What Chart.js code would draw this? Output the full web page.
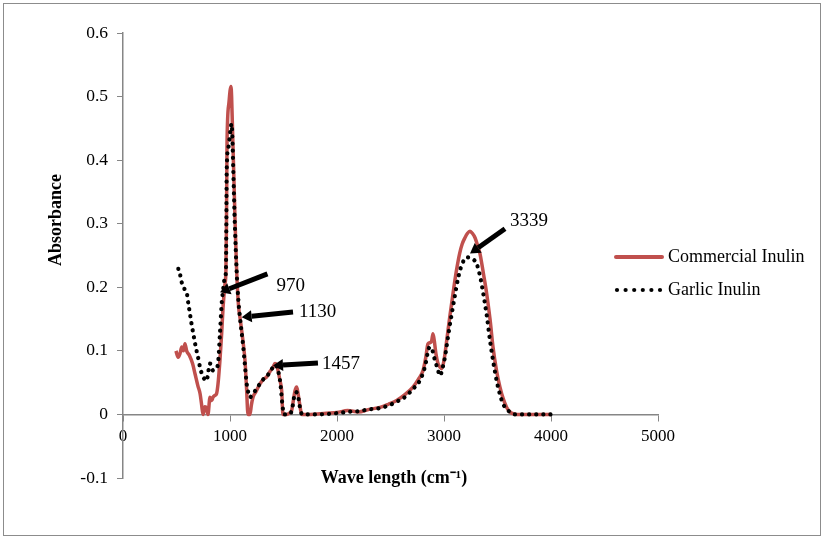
<!DOCTYPE html>
<html>
<head>
<meta charset="utf-8">
<script src="https://cdn.jsdelivr.net/npm/chart.js@4.4.0/dist/chart.umd.min.js"></script>
<style>
  html, body { margin: 0; padding: 0; background: #fff; }
  #wrap { position: relative; width: 827px; height: 543px; }
  #frame { position: absolute; left: 3px; top: 3px; width: 816px; height: 531px; border: 1.5px solid #8c8c8c; pointer-events: none; }
</style>
</head>
<body>
<div id="wrap">
  <canvas id="myChart" width="827" height="543"></canvas>
  <div id="frame"></div>
</div>
<script>
// wave numbers (cm-1) and absorbance
const commercialX = [495, 515, 533, 549, 565, 579, 595, 620, 650, 673, 700, 720, 735, 748, 765, 780, 794, 813, 830, 841, 860, 875, 888, 906, 922, 935, 953, 962, 967, 972, 990, 1009, 1015, 1025, 1035, 1048, 1062, 1080, 1093, 1109, 1125, 1140, 1155, 1168, 1187, 1200, 1215, 1240, 1280, 1310, 1343, 1375, 1402, 1420, 1435, 1449, 1465, 1483, 1495, 1530, 1555, 1576, 1595, 1607, 1623, 1636, 1652, 1670, 1750, 1900, 2000, 2100, 2200, 2300, 2402, 2480, 2557, 2640, 2710, 2760, 2804, 2830, 2850, 2870, 2885, 2897, 2910, 2925, 2944, 2960, 2978, 3000, 3025, 3055, 3084, 3115, 3146, 3170, 3196, 3220, 3243, 3265, 3290, 3315, 3336, 3370, 3399, 3430, 3458, 3490, 3523, 3555, 3586, 3610, 3632, 3680, 4000];
const commercialY = [0.100, 0.090, 0.096, 0.106, 0.100, 0.111, 0.100, 0.093, 0.080, 0.064, 0.045, 0.033, 0.015, 0.000, 0.012, 0.010, 0.000, 0.027, 0.022, 0.027, 0.030, 0.033, 0.048, 0.085, 0.127, 0.168, 0.205, 0.227, 0.300, 0.425, 0.490, 0.516, 0.500, 0.440, 0.380, 0.300, 0.226, 0.170, 0.153, 0.132, 0.110, 0.085, 0.040, 0.000, 0.000, 0.015, 0.027, 0.035, 0.048, 0.055, 0.059, 0.068, 0.074, 0.080, 0.078, 0.069, 0.055, 0.037, 0.000, 0.000, 0.002, 0.006, 0.025, 0.037, 0.043, 0.033, 0.015, 0.000, 0.000, 0.002, 0.003, 0.006, 0.004, 0.008, 0.011, 0.016, 0.022, 0.032, 0.043, 0.055, 0.069, 0.090, 0.111, 0.113, 0.116, 0.127, 0.115, 0.095, 0.080, 0.075, 0.072, 0.085, 0.116, 0.155, 0.190, 0.225, 0.253, 0.268, 0.278, 0.285, 0.288, 0.285, 0.278, 0.265, 0.253, 0.220, 0.190, 0.150, 0.106, 0.070, 0.043, 0.024, 0.011, 0.005, 0.002, 0.000, 0.000];

const garlicX = [517, 525, 533, 540, 548, 560, 570, 579, 595, 610, 626, 640, 657, 672, 688, 705, 720, 735, 748, 765, 782, 795, 805, 813, 825, 841, 858, 875, 888, 906, 922, 935, 953, 962, 966, 969, 985, 1015, 1025, 1031, 1045, 1062, 1078, 1093, 1108, 1121, 1138, 1156, 1172, 1187, 1210, 1234, 1256, 1280, 1310, 1343, 1375, 1402, 1425, 1449, 1470, 1490, 1505, 1540, 1576, 1600, 1620, 1640, 1660, 1680, 1800, 2000, 2100, 2200, 2300, 2400, 2480, 2557, 2640, 2710, 2770, 2810, 2835, 2850, 2869, 2885, 2900, 2916, 2940, 2963, 2985, 3009, 3040, 3072, 3103, 3134, 3170, 3215, 3260, 3305, 3340, 3367, 3400, 3430, 3460, 3492, 3520, 3551, 3585, 3617, 3660, 4000];
const garlicY = [0.229, 0.222, 0.221, 0.212, 0.208, 0.205, 0.200, 0.195, 0.192, 0.175, 0.158, 0.143, 0.127, 0.113, 0.100, 0.087, 0.074, 0.065, 0.059, 0.055, 0.053, 0.065, 0.075, 0.080, 0.077, 0.069, 0.072, 0.074, 0.080, 0.127, 0.174, 0.195, 0.216, 0.226, 0.300, 0.383, 0.420, 0.457, 0.420, 0.383, 0.300, 0.226, 0.180, 0.153, 0.130, 0.111, 0.080, 0.048, 0.034, 0.027, 0.032, 0.037, 0.043, 0.048, 0.055, 0.059, 0.068, 0.074, 0.078, 0.069, 0.050, 0.015, 0.000, 0.000, 0.005, 0.028, 0.035, 0.025, 0.005, 0.000, 0.000, 0.002, 0.004, 0.005, 0.008, 0.010, 0.014, 0.020, 0.028, 0.040, 0.052, 0.068, 0.085, 0.100, 0.106, 0.105, 0.095, 0.085, 0.072, 0.061, 0.072, 0.090, 0.125, 0.158, 0.188, 0.216, 0.237, 0.247, 0.245, 0.237, 0.215, 0.190, 0.155, 0.116, 0.083, 0.053, 0.033, 0.017, 0.008, 0.004, 0.000, 0.000];

const seriesNames = ['Commercial Inulin', 'Garlic Inulin'];
const xTicks = [0, 1000, 2000, 3000, 4000, 5000];
const yTicks = [-0.1, 0, 0.1, 0.2, 0.3, 0.4, 0.5, 0.6];

// peak labels: text, arrow tip (x,y), arrow tail (x,y)
const peakLabels = ['970', '1130', '1457', '3339'];
const peakTip = [[907, 0.192], [1109, 0.153], [1402, 0.077], [3243, 0.253]];
const peakTail = [[1350, 0.221], [1589, 0.161], [1822, 0.081], [3570, 0.292]];

const RED = '#c0504d';
const AXIS = '#868686';
const FONT = '"Liberation Serif", "Times New Roman", serif';

function pts(xs, ys) {
  return xs.map((x, i) => ({ x: x, y: ys[i] }));
}

const extras = {
  id: 'extras',
  afterDatasetsDraw(chart) {
    const ctx = chart.ctx;
    const xs = chart.scales.x, ys = chart.scales.y;
    // label offset from arrow tail
    const off = [[9, 12], [6, 0], [4, 1], [5, -8]];
    ctx.save();
    for (let i = 0; i < peakLabels.length; i++) {
      const tx = xs.getPixelForValue(peakTip[i][0]), ty = ys.getPixelForValue(peakTip[i][1]);
      const sx = xs.getPixelForValue(peakTail[i][0]), sy = ys.getPixelForValue(peakTail[i][1]);
      const ang = Math.atan2(ty - sy, tx - sx);
      const hl = 10, hw = 6;
      const bx = tx - hl * Math.cos(ang), by = ty - hl * Math.sin(ang);
      ctx.strokeStyle = '#000';
      ctx.lineWidth = 5;
      ctx.beginPath();
      ctx.moveTo(sx, sy);
      ctx.lineTo(bx, by);
      ctx.stroke();
      ctx.fillStyle = '#000';
      ctx.beginPath();
      ctx.moveTo(tx, ty);
      ctx.lineTo(bx + hw * Math.sin(ang), by - hw * Math.cos(ang));
      ctx.lineTo(bx - hw * Math.sin(ang), by + hw * Math.cos(ang));
      ctx.closePath();
      ctx.fill();
      ctx.font = '19px ' + FONT;
      ctx.textAlign = 'left';
      ctx.textBaseline = 'middle';
      ctx.fillText(peakLabels[i], sx + off[i][0], sy + off[i][1]);
    }
    ctx.restore();
  },
  afterDraw(chart) {
    const ctx = chart.ctx;
    ctx.save();
    // axis titles
    ctx.fillStyle = '#000';
    ctx.font = 'bold 18px ' + FONT;
    ctx.textAlign = 'center';
    ctx.textBaseline = 'middle';
    ctx.fillText('Wave length (cm\u207B\u00B9)', 394, 478);
    ctx.translate(56, 220);
    ctx.rotate(-Math.PI / 2);
    ctx.fillText('Absorbance', 0, 0);
    ctx.restore();

    // legend
    ctx.save();
    ctx.strokeStyle = RED;
    ctx.lineWidth = 4;
    ctx.lineCap = 'round';
    ctx.beginPath();
    ctx.moveTo(616, 257);
    ctx.lineTo(662, 257);
    ctx.stroke();
    ctx.fillStyle = '#000';
    for (let k = 0; k < 6; k++) {
      ctx.beginPath();
      ctx.arc(617 + k * 8.6, 290, 2.1, 0, Math.PI * 2);
      ctx.fill();
    }
    ctx.font = '18px ' + FONT;
    ctx.textAlign = 'left';
    ctx.textBaseline = 'middle';
    ctx.fillText(seriesNames[0], 668, 257);
    ctx.fillText(seriesNames[1], 668, 290);
    ctx.restore();
  }
};

const ctx = document.getElementById('myChart').getContext('2d');
const myChart = new Chart(ctx, {
  type: 'scatter',
  data: {
    datasets: [{
      label: seriesNames[1],
      data: pts(garlicX, garlicY),
      showLine: true,
      borderColor: '#000',
      borderWidth: 4.2,
      borderDash: [0.1, 7],
      borderCapStyle: 'round',
      pointRadius: 0,
      cubicInterpolationMode: 'monotone',
      order: 0
    }, {
      label: seriesNames[0],
      data: pts(commercialX, commercialY),
      showLine: true,
      borderColor: RED,
      borderWidth: 3.5,
      pointRadius: 0,
      cubicInterpolationMode: 'monotone',
      order: 1
    }]
  },
  options: {
    responsive: false,
    animation: false,
    events: [],
    layout: { padding: { left: 0, top: 33, right: 169, bottom: 65 } },
    plugins: { legend: { display: false }, tooltip: { enabled: false } },
    scales: {
      x: {
        type: 'linear',
        position: { y: 0 },
        min: 0, max: 5000,
        afterBuildTicks: (s) => { s.ticks = xTicks.map(v => ({ value: v })); },
        grid: { drawOnChartArea: false, drawTicks: true, tickLength: 6, color: AXIS, tickColor: AXIS },
        border: { color: AXIS, width: 1.5 },
        ticks: {
          color: '#000', font: { family: FONT, size: 17 }, padding: 6, maxRotation: 0,
          callback: (v) => String(v)
        }
      },
      y: {
        min: -0.1, max: 0.6,
        afterBuildTicks: (s) => { s.ticks = yTicks.map(v => ({ value: v })); },
        afterFit: (s) => { s.width = 123; },
        grid: { drawOnChartArea: false, drawTicks: true, tickLength: 6, color: AXIS, tickColor: AXIS },
        border: { color: AXIS, width: 1.5 },
        ticks: {
          color: '#000', font: { family: FONT, size: 17.5 }, padding: 9,
          callback: (v) => String(Number(v.toFixed(1)))
        }
      }
    }
  },
  plugins: [extras]
});
</script>
</body>
</html>
